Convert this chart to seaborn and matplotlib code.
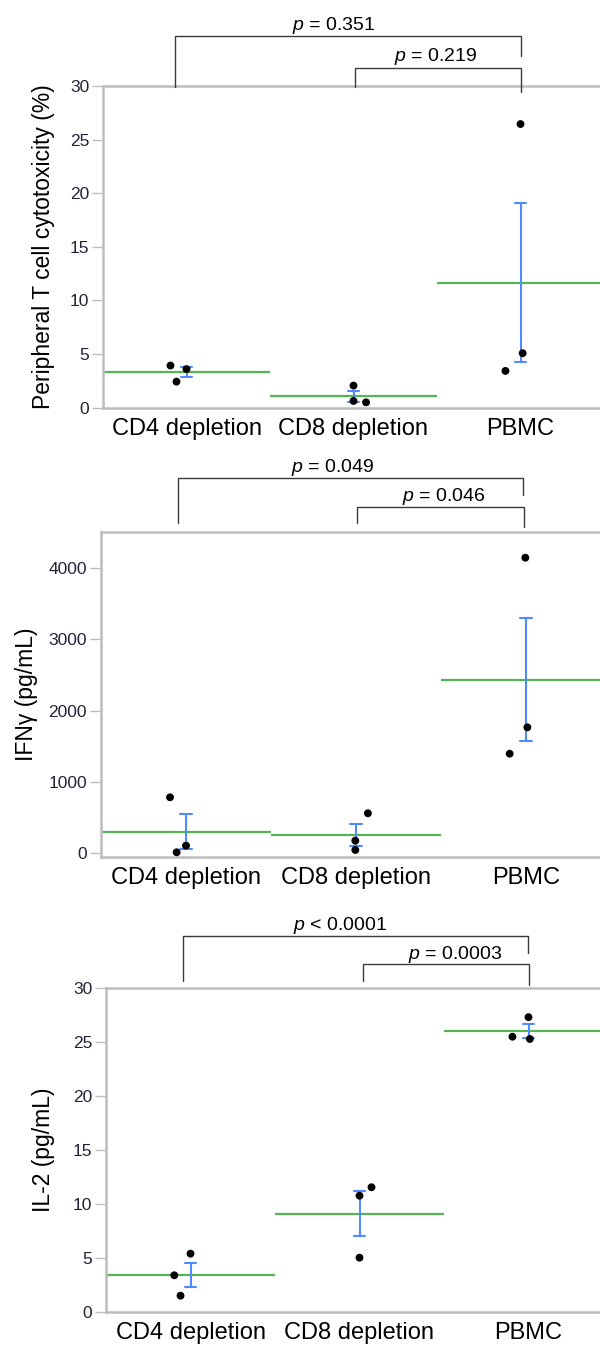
import numpy as np
import pandas as pd
import matplotlib
matplotlib.use("Agg")
import matplotlib.pyplot as plt
import matplotlib.transforms as mtransforms
import seaborn as sns

# ---------------- data ----------------
categories = ["CD4 depletion", "CD8 depletion", "PBMC"]

cyto_cd4 = [3.93, 2.43, 3.60]
cyto_cd8 = [2.06, 0.63, 0.50]
cyto_pbmc = [26.45, 5.08, 3.43]

ifng_cd4 = [785, 14, 107]
ifng_cd8 = [46, 177, 561]
ifng_pbmc = [4144, 1766, 1396]

il2_cd4 = [3.40, 1.51, 5.40]
il2_cd8 = [10.77, 11.55, 5.03]
il2_pbmc = [27.30, 25.28, 25.49]

ylabels = ["Peripheral T cell cytotoxicity (%)", "IFNγ (pg/mL)", "IL-2 (pg/mL)"]
yticks_list = [[0, 5, 10, 15, 20, 25, 30],
               [0, 1000, 2000, 3000, 4000],
               [0, 5, 10, 15, 20, 25, 30]]
p_labels = [["= 0.351", "= 0.219"],
            ["= 0.049", "= 0.046"],
            ["< 0.0001", "= 0.0003"]]

# ---------------- style / layout ----------------
W, H = 600, 1347
GREEN = "#55b555"
BLUE = "#4f8bff"
SPINE = "#bdbdbd"
TICKC = "#222238"

sns.set_theme(style="white")
plt.rcParams["font.family"] = ["Liberation Sans", "DejaVu Sans"]
plt.rcParams["mathtext.fontset"] = "custom"
plt.rcParams["mathtext.it"] = "Liberation Sans:italic"
plt.rcParams["mathtext.rm"] = "Liberation Sans"

# jitter offsets (category units) for each point
jitters = [
    [[-0.096, -0.06, 0.0], [0.0, 0.0, 0.075], [0.0, 0.013, -0.09]],
    [[-0.094, -0.055, 0.0], [-0.004, -0.004, 0.07], [-0.004, 0.008, -0.096]],
    [[-0.096, -0.059, 0.0], [0.0, 0.071, 0.0], [0.0, 0.008, -0.095]],
]
# axes pixel boxes: left, right, top, bottom
boxes = [(103, 604, 86, 407.7), (101, 611, 532.3, 856.7), (106, 613, 988, 1312)]
ylims = [(0, 30), (-48, 4500), (0, 30)]
ylabel_x = [55, 38, 55]
# bracket layout in pixels: (x_left, x_right, y_horiz, y_leg_left, y_leg_right, text_x, text_y)
brackets = [
    [(175, 520.5, 35.6, 87, 55.5, 334, 23), (355, 521, 67.7, 87, 92, 436, 54)],
    [(177.7, 522.7, 478.3, 523.3, 495, 333, 465), (356.7, 523.7, 506.7, 523.3, 527.3, 444, 494)],
    [(183.3, 527.7, 936, 981, 953, 340, 923), (362.7, 529.3, 964.3, 981, 985, 455, 951.7)],
]

panels = [
    [cyto_cd4, cyto_cd8, cyto_pbmc],
    [ifng_cd4, ifng_cd8, ifng_pbmc],
    [il2_cd4, il2_cd8, il2_pbmc],
]

fig = plt.figure(figsize=(W / 100, H / 100), dpi=100)

def fy(py):
    return 1 - py / H

for k, groups in enumerate(panels):
    l, r, t, b = boxes[k]
    ax = fig.add_axes([l / W, fy(b), (r - l) / W, (b - t) / H])
    rows = []
    for i, vals in enumerate(groups):
        for j, v in enumerate(vals):
            rows.append({"pos": i, "xj": i + jitters[k][i][j], "value": v})
    df = pd.DataFrame(rows)

    means = df.groupby("pos")["value"].mean()
    ax.hlines(means.values, means.index - 0.5, means.index + 0.5,
              color=GREEN, lw=1.6, zorder=2)

    sns.pointplot(data=df, x="pos", y="value", native_scale=True,
                  errorbar="se", linestyle="none", marker="", capsize=0.065,
                  color=BLUE, err_kws={"linewidth": 1.5, "zorder": 3}, ax=ax)

    sns.scatterplot(data=df, x="xj", y="value", color="black", s=32,
                    edgecolor="none", zorder=4, ax=ax, legend=False)

    ax.set_xlim(-0.5, 2.5)
    ax.set_ylim(*ylims[k])
    ax.set_xticks([0, 1, 2])
    ax.set_xticklabels(categories, fontsize=17, color="black")
    ax.set_yticks(yticks_list[k])
    ax.set_yticklabels([str(v) for v in yticks_list[k]], fontsize=12.5, color=TICKC)
    ax.tick_params(axis="x", length=0, pad=7.5)
    ax.tick_params(axis="y", length=8, width=1, color=SPINE, pad=2, left=True)
    ax.set_xlabel("")
    ax.set_ylabel(ylabels[k], fontsize=16.5, color="black")
    trans = mtransforms.blended_transform_factory(fig.transFigure, ax.transAxes)
    ax.yaxis.set_label_coords(ylabel_x[k] / W, 0.5, transform=trans)
    for s in ["left", "bottom", "top"]:
        ax.spines[s].set_color(SPINE)
        ax.spines[s].set_linewidth(1.8)
    ax.spines["right"].set_visible(False)

    # significance brackets
    for (xl, xr, yh, yll, ylr, tx, ty), lab in zip(brackets[k], p_labels[k]):
        fig.add_artist(plt.Line2D([xl / W, xl / W, xr / W, xr / W],
                                  [fy(yll), fy(yh), fy(yh), fy(ylr)],
                                  color="#3a3a3a", lw=1.0,
                                  transform=fig.transFigure))
        fig.text(tx / W, fy(ty + 7), r"$\it{p}$ " + lab, fontsize=14,
                 ha="center", va="baseline", color="black")

fig.savefig("out.png", dpi=100)
